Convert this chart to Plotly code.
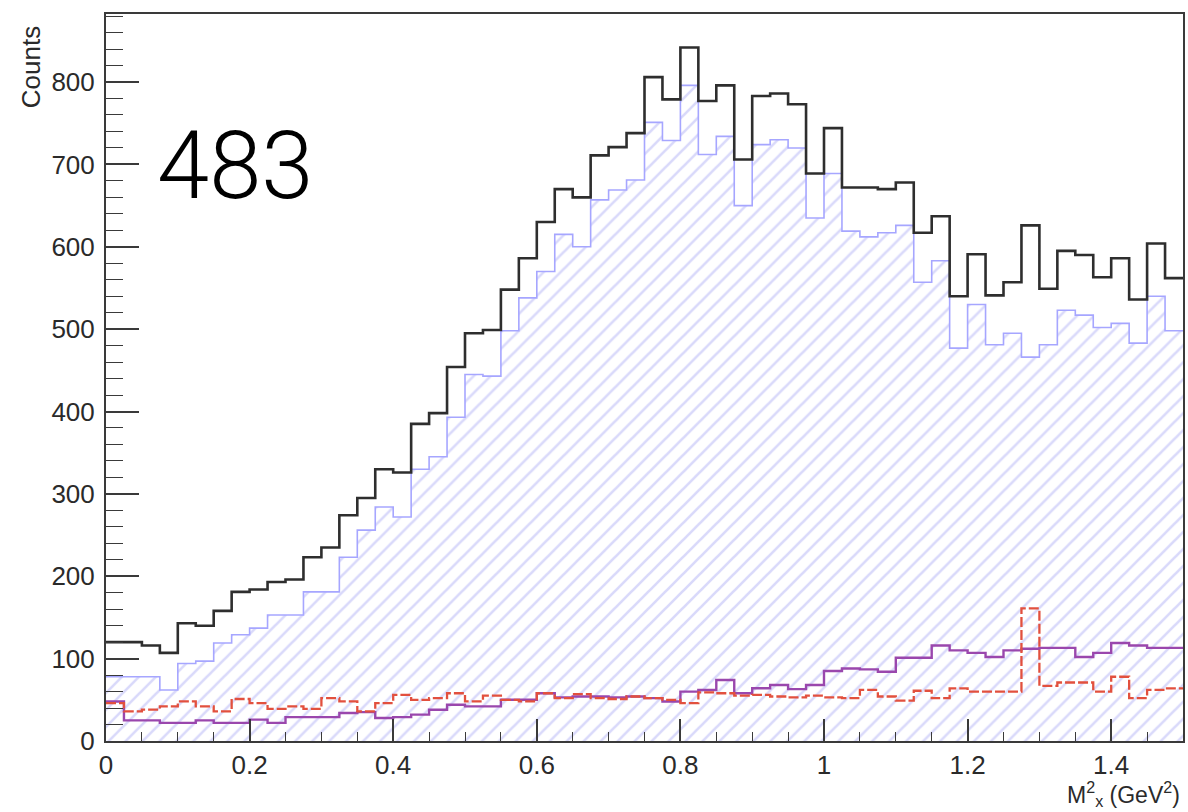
import numpy as np
import plotly.graph_objects as go

# Histogram binning: 60 bins of width 0.025 GeV^2 between 0 and 1.5
x_min, x_max, n_bins = 0.0, 1.5, 60

# Counts per bin
total_counts = [120, 120, 116, 107, 143, 140, 158, 181, 184, 193,
                196, 223, 235, 274, 295, 330, 326, 385, 398, 454,
                495, 499, 548, 586, 630, 670, 660, 711, 721, 738,
                806, 779, 842, 777, 796, 706, 783, 786, 773, 689,
                744, 672, 672, 670, 678, 617, 637, 540, 591, 541,
                557, 626, 549, 595, 590, 563, 586, 536, 604, 562]

signal_counts = [78, 78, 78, 62, 94, 97, 119, 129, 137, 153,
                 153, 181, 181, 223, 256, 284, 272, 330, 345, 393,
                 445, 443, 498, 538, 570, 615, 600, 657, 669, 681,
                 751, 729, 796, 712, 734, 650, 724, 730, 720, 635,
                 689, 619, 612, 617, 626, 557, 583, 477, 530, 481,
                 495, 466, 481, 523, 517, 502, 507, 483, 540, 498]

background_counts = [46, 36, 38, 42, 48, 42, 36, 51, 46, 39,
                     42, 39, 52, 48, 36, 46, 56, 50, 52, 58,
                     48, 55, 50, 48, 58, 52, 57, 52, 51, 54,
                     52, 50, 46, 59, 58, 55, 56, 54, 53, 55,
                     53, 52, 62, 54, 49, 61, 52, 64, 60, 60,
                     60, 161, 67, 71, 71, 60, 78, 52, 62, 64]

sideband_counts = [48, 25, 25, 22, 22, 25, 22, 22, 26, 22,
                   29, 29, 29, 34, 35, 28, 29, 32, 38, 44,
                   42, 42, 50, 50, 58, 53, 54, 54, 53, 54,
                   52, 48, 60, 62, 74, 58, 64, 68, 63, 68,
                   85, 88, 87, 84, 101, 101, 116, 110, 107, 102,
                   110, 112, 113, 113, 102, 107, 119, 116, 113, 113]

x_tick_vals = [0, 0.2, 0.4, 0.6, 0.8, 1.0, 1.2, 1.4]
x_tick_text = ["0", "0.2", "0.4", "0.6", "0.8", "1", "1.2", "1.4"]

run_label = "483"

edges = np.linspace(x_min, x_max, n_bins + 1)


def step(vals):
    """Outline of a histogram drawn from its left bin edges."""
    return list(edges), list(vals) + [vals[-1]]


fig = go.Figure()

# hatched signal histogram
sx, sy = step(signal_counts)
fig.add_trace(go.Scatter(
    x=sx, y=sy, mode="lines", line_shape="hv",
    line=dict(color="#a6a6ff", width=1.6),
    fill="tozeroy", fillcolor="rgba(0,0,0,0)",
    fillpattern=dict(shape="/", fgcolor="#b4b4f6", bgcolor="rgba(0,0,0,0)",
                     size=12, solidity=0.22),
    hoverinfo="skip", showlegend=False))

# total
tx, ty = step(total_counts)
fig.add_trace(go.Scatter(
    x=tx, y=ty, mode="lines", line_shape="hv",
    line=dict(color="#2e2e2e", width=2.6), showlegend=False))

# sideband
px_, py_ = step(sideband_counts)
fig.add_trace(go.Scatter(
    x=px_, y=py_, mode="lines", line_shape="hv",
    line=dict(color="#9a47ad", width=2.4), showlegend=False))

# background (dashed)
bx, by = step(background_counts)
fig.add_trace(go.Scatter(
    x=bx, y=by, mode="lines", line_shape="hv",
    line=dict(color="#e2503e", width=2.3, dash="10px,3px"), showlegend=False))

axis_col = "#3a3a3a"
tick_font = dict(family="Liberation Sans, Arial, Helvetica, sans-serif", size=26, color="#2a2a2a")

fig.update_layout(
    width=1188, height=812,
    margin=dict(l=106, r=3, t=14, b=71),
    paper_bgcolor="white", plot_bgcolor="white",
    xaxis=dict(
        range=[x_min, x_max], tickmode="array",
        tickvals=x_tick_vals, ticktext=x_tick_text,
        ticks="inside", ticklen=22, tickwidth=1.6, tickcolor=axis_col,
        showline=True, linecolor=axis_col, linewidth=2, mirror=True,
        showgrid=False, zeroline=False, tickfont=tick_font,
        ticklabelstandoff=0,
        minor=dict(ticks="inside", ticklen=9, tickwidth=1.4, tickcolor=axis_col,
                   tick0=0, dtick=0.05, showgrid=False),
    ),
    yaxis=dict(
        range=[0, 882.6], tickmode="linear", tick0=0, dtick=100,
        ticks="inside", ticklen=33, tickwidth=1.6, tickcolor=axis_col,
        showline=True, linecolor=axis_col, linewidth=2, mirror=True,
        showgrid=False, zeroline=False, tickfont=tick_font,
        ticklabelstandoff=4,
        minor=dict(ticks="inside", ticklen=17, tickwidth=1.4, tickcolor=axis_col,
                   tick0=0, dtick=20, showgrid=False),
    ),
    annotations=[
        dict(text="Counts", xref="paper", yref="paper", x=-0.0695, y=0.927,
             xanchor="center", yanchor="middle", textangle=-90, showarrow=False,
             font=dict(family="Liberation Sans, Arial, sans-serif", size=26, color="#2a2a2a")),
        dict(text="M<sup>2</sup><sub>x</sub> (GeV<sup>2</sup>)", xref="paper", yref="paper",
             x=0.998, y=-0.0968, xanchor="right", yanchor="bottom", showarrow=False,
             borderpad=0,
             font=dict(family="Liberation Sans, Arial, sans-serif", size=23, color="#2a2a2a")),
        dict(text=run_label, xref="paper", yref="paper", x=0.1196, y=0.791,
             xanchor="center", yanchor="middle", showarrow=False,
             font=dict(family="Roboto, Helvetica Neue, sans-serif", size=94, color="black",
                       weight=300)),
    ],
)

fig.write_html("out.html")
